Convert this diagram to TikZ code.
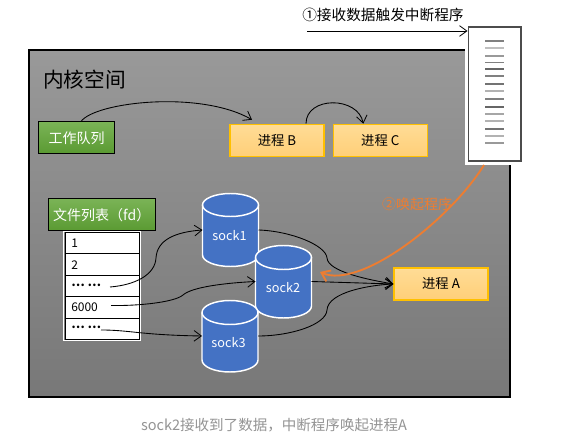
\documentclass[tikz,border=0pt]{standalone}
\usepackage{fontspec}
\setmainfont{Noto Sans CJK SC}
\usetikzlibrary{arrows.meta,calc}
\definecolor{greentop}{HTML}{7AB356}
\definecolor{greenbot}{HTML}{5A9A32}
\definecolor{orangetop}{HTML}{FFDC96}
\definecolor{orangebot}{HTML}{FFCF78}
\definecolor{orangeedge}{HTML}{FFC000}
\definecolor{sockblue}{HTML}{4472C4}
\definecolor{wake}{HTML}{ED7D31}
\newcommand{\socksilo}[4]{% cx, top ellipse cy, body height, ry
  \begin{scope}[shift={(#1,#2)},x=0.75pt,y=0.75pt]
  \path[fill=sockblue] (-28,0) -- (-28,-#3) arc[start angle=180,end angle=360,x radius=28,y radius=#4] -- (28,0) arc[start angle=0,end angle=180,x radius=28,y radius=#4] -- cycle;
  \draw[sockedge] (-28,0) -- (-28,-#3) arc[start angle=180,end angle=360,x radius=28,y radius=#4] -- (28,0);
  \draw[sockedge] (0,0) ellipse[x radius=28,y radius=#4];
  \end{scope}
}
\tikzset{
  px/.style={x=0.75pt,y=-0.75pt},
  sockedge/.style={draw=white,line width=1.1pt},
  kernelbox/.style={draw=black,line width=0.8pt,top color=black!40,bottom color=black!53,minimum width=360.75pt,minimum height=260.25pt,inner sep=0pt},
  greenbox/.style={draw=black,line width=0.75pt,top color=greentop,bottom color=greenbot,text=white,font=\fontsize{10.5pt}{12pt}\selectfont,inner sep=0pt},
  procbox/.style={draw=orangeedge,line width=0.9pt,top color=orangetop,bottom color=orangebot,text=black,font=\fontsize{10pt}{12pt}\selectfont,minimum width=70.5pt,minimum height=24pt,inner sep=0pt},
  sockhit/.style={minimum width=42pt,inner sep=0pt,outer sep=0pt},
  socklabel/.style={text=white,inner sep=0pt,font=\fontsize{9.5pt}{11pt}\selectfont},
  rowbox/.style={draw=black,line width=0.75pt,fill=white,minimum width=56pt,minimum height=16.1pt,inner sep=0pt,anchor=north west},
  rowtext/.style={text=black,font=\fontsize{9pt}{11pt}\selectfont,inner sep=0pt,anchor=west},
  link/.style={draw=black,line width=0.65pt,-{Straight Barb[length=5.5pt,width=8pt,line width=0.6pt]}},
  wakelink/.style={draw=wake,line width=1.4pt,-{Straight Barb[length=6pt,width=9pt,line width=1.4pt]}},
  cardline/.style={line width=0.9pt},
}
\begin{document}
\begin{tikzpicture}[px]
\useasboundingbox (0,0) rectangle (563,448);
\fill[white] (0,0) rectangle (563,448);
\node[kernelbox] (kernel) at (269.5,223.5) {};
\node[anchor=west,inner sep=0pt,font=\fontsize{15.5pt}{18pt}\selectfont] (ktitle) at (43,80) {内核空间};

\node[anchor=west,inner sep=0pt,font=\fontsize{11pt}{13pt}\selectfont] (irqtext) at (302,15) {①接收数据触发中断程序};

% card
\fill[white] (464.5,27) rectangle (523,165);
\node[draw=black!70,line width=1pt,fill=white,minimum width=39.5pt,minimum height=100.5pt,inner sep=0pt] (card) at (494.5,94) {};
\foreach \yy/\cc in {41/50,48/25,56/40,62.5/50,69/60,76/50,84/55,91/30,99/50,107/60,114/35,121/30,129/55,136/30,143/40}
  \draw[cardline,black!\cc] (485,\yy) -- (504,\yy);
\coordinate (irqstart) at (307,31);
\draw[link] (irqstart) -- (card.west |- irqstart);

% processes
\node[greenbox,minimum width=57.5pt,minimum height=24pt] (queue) at (76.5,138) {工作队列};
\node[procbox] (procB) at (277,140.3) {进程 B};
\node[procbox] (procC) at (380.3,140.3) {进程 C};
\node[procbox] (procA) at (441,284) {进程 A};

% file list
\node[greenbox,minimum width=80.5pt,minimum height=24pt] (files) at (101.7,215) {文件列表（fd）};
\draw[white,line width=1pt] (63.5,231.5) rectangle (140.5,340.5);
\node[rowbox] (r1) at (64.5,232) {};
\node[rowbox] (r2) at (64.5,253.5) {};
\node[rowbox] (r3) at (64.5,275) {};
\node[rowbox] (r4) at (64.5,296.5) {};
\node[rowbox] (r5) at (64.5,318) {};
\node[rowtext] (t1) at (71,243) {1};
\node[rowtext] (t2) at (71,265) {2};
\node[rowtext] (t3) at (71,285) {\textbf{… …}};
\node[rowtext] (t4) at (71,307.5) {6000};
\node[rowtext] (t5) at (71,327.5) {\textbf{… …}};
\coordinate (from3) at (110,287);
\coordinate (from4) at (111,305.5);
\coordinate (from5) at (101,330);

% sockets
\socksilo{230.5}{205}{50}{11.5}
\socksilo{283.5}{257.5}{48.5}{12}
\socksilo{230}{312.5}{47.5}{12}
\node[sockhit] (sock1) at (230.5,230) {};
\node[sockhit] (sock2) at (283.5,281.5) {};
\node[sockhit] (sock3) at (230,336) {};
\node[socklabel] (l1) at (229.5,236) {sock1};
\node[socklabel] (l2) at (283,288) {sock2};
\node[socklabel] (l3) at (228.5,343) {sock3};

% connectors
\draw[link] ($(queue.north)+(4.5,0)$) .. controls (95,102) and (200,90) .. ($(procB.north)+(-25,-4)$);
\draw[link] ($(procB.north)+(29,0)$) .. controls (306,96) and (358,96) .. ($(procC.north)+(-17,0)$);
\draw[link] (from3) .. controls (135,285) and (155,275) .. (156,258) .. controls (157,240) and (175,232) .. (sock1.west);
\draw[link] (from4) .. controls (140,306) and (175,302) .. (183,295) .. controls (192,287) and (225,283) .. (sock2.west);
\draw[link] (from5) .. controls (130,330) and (140,335) .. (sock3.west);
\draw[link] (sock1.east) .. controls (290,231) and (326,245) .. (327,258) .. controls (328,272) and (370,280) .. (procA.west);
\draw[link] (sock2.east) -- (procA.west);
\draw[link] (sock3.east) .. controls (290,336) and (326,325) .. (327,310) .. controls (328,292) and (370,285) .. (procA.west);

% wake
\node[text=wake,inner sep=0pt,font=\fontsize{10.5pt}{12pt}\selectfont] (waketext) at (417,204) {②唤起程序};
\coordinate (wakestart) at (484,165);
\coordinate (waketip) at (320,272);
\draw[wakelink] (wakestart) .. controls (450,220) and (360,290) .. (waketip);

\node[text=black!42,inner sep=0pt,font=\fontsize{10.9pt}{13pt}\selectfont] (caption) at (274,425) {sock2接收到了数据，中断程序唤起进程A};
\end{tikzpicture}
\end{document}
